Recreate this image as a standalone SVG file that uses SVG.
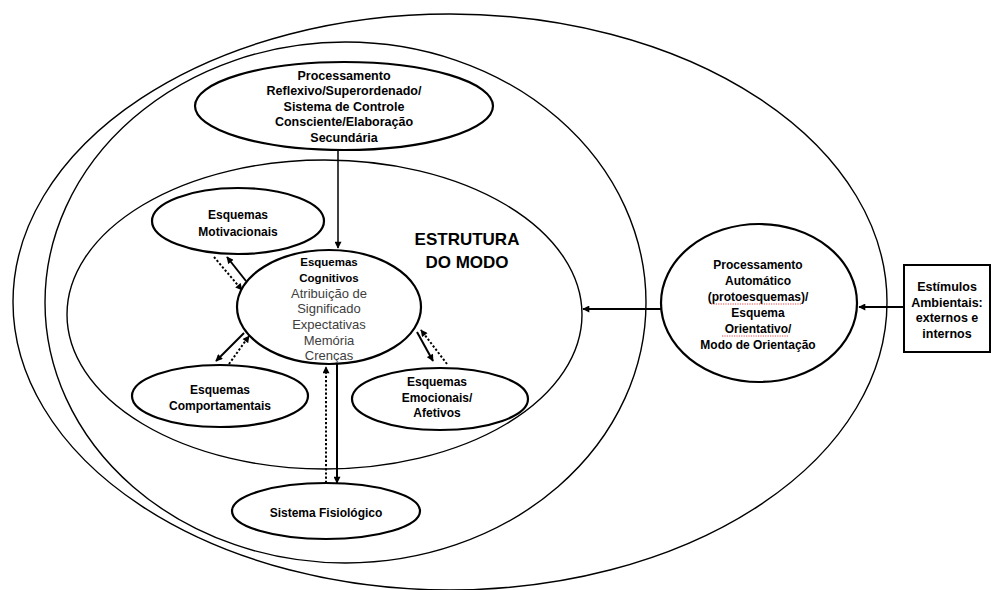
<svg xmlns="http://www.w3.org/2000/svg" width="991" height="590" viewBox="0 0 991 590">
<style>
.bg{fill:#fff}
.container{fill:none;stroke:#000;stroke-width:1.4}
.node{fill:#fff;stroke:#000;stroke-width:2.2}
.t{font-family:"Liberation Sans",Arial,sans-serif;font-weight:bold;fill:#000;text-anchor:middle}
.r{font-family:"Liberation Sans",Arial,sans-serif;font-weight:normal;fill:#404040;text-anchor:middle;font-size:13px}
.solid{stroke:#000;stroke-width:2;fill:none}
.thin{stroke:#000;stroke-width:1.5;fill:none}
.dot{stroke:#000;stroke-width:2;fill:none;stroke-dasharray:2.2 2}
.spell{stroke:#e03030;stroke-width:0.9;fill:none;stroke-dasharray:1.2 1.2}
</style>
<defs>
<marker id="ah" viewBox="0 0 10 10" refX="9" refY="5" markerWidth="8" markerHeight="7" markerUnits="userSpaceOnUse" orient="auto">
<path d="M0,0 L10,5 L0,10 Z" fill="#000"/>
</marker>
</defs>
<rect class="bg" x="0" y="0" width="991" height="590"/>

<g id="outer-ellipse"><ellipse class="container" cx="450" cy="302" rx="437" ry="288"/></g>
<g id="middle-ellipse"><ellipse class="container" cx="345.5" cy="302.5" rx="300.5" ry="260.5"/></g>
<g id="estrutura-do-modo">
<ellipse class="container" cx="324.5" cy="314.5" rx="257.5" ry="154.5"/>
<text class="t" x="467" y="245" style="font-size:17px">ESTRUTURA</text>
<text class="t" x="467" y="268" style="font-size:17px">DO MODO</text>
</g>

<g id="connectors">
<line class="thin" x1="338" y1="150" x2="338" y2="248" marker-end="url(#ah)"/>
<line class="solid" x1="246" y1="281" x2="227" y2="257" marker-end="url(#ah)"/>
<line class="dot" x1="214" y1="257" x2="242" y2="290" marker-end="url(#ah)"/>
<line class="solid" x1="244" y1="333" x2="216" y2="361" marker-end="url(#ah)"/>
<line class="dot" x1="229" y1="364" x2="249" y2="336" marker-end="url(#ah)"/>
<line class="solid" x1="417" y1="332" x2="433" y2="361" marker-end="url(#ah)"/>
<line class="dot" x1="447" y1="364" x2="421" y2="330" marker-end="url(#ah)"/>
<line class="solid" x1="337" y1="364" x2="337" y2="483" marker-end="url(#ah)"/>
<line class="dot" x1="326" y1="483" x2="326" y2="367" marker-end="url(#ah)"/>
<line class="solid" x1="904" y1="307" x2="859" y2="307" marker-end="url(#ah)"/>
<line class="solid" x1="661" y1="309" x2="583" y2="309" marker-end="url(#ah)"/>
</g>

<g id="processamento-reflexivo">
<ellipse class="node" cx="344" cy="106" rx="149" ry="44"/>
<text class="t" style="font-size:12.5px" x="344" y="79.5">Processamento</text>
<text class="t" style="font-size:12.5px" x="344" y="95">Reflexivo/Superordenado/</text>
<text class="t" style="font-size:12.5px" x="344" y="110.5">Sistema de Controle</text>
<text class="t" style="font-size:12.5px" x="344" y="126">Consciente/Elaboração</text>
<text class="t" style="font-size:12.5px" x="344" y="141.5">Secundária</text>
</g>

<g id="esquemas-motivacionais">
<ellipse class="node" cx="238" cy="221" rx="86" ry="33"/>
<text class="t" style="font-size:12px" x="238" y="219">Esquemas</text>
<text class="t" style="font-size:12px" x="238" y="236">Motivacionais</text>
</g>

<g id="esquemas-cognitivos">
<ellipse class="node" cx="329" cy="307" rx="92" ry="57"/>
<text class="t" style="font-size:11.5px" x="329" y="266">Esquemas</text>
<text class="t" style="font-size:11.5px" x="329" y="281.5">Cognitivos</text>
<text class="r" x="329" y="297.5">Atribuição de</text>
<text class="r" x="329" y="313">Significado</text>
<text class="r" x="329" y="329">Expectativas</text>
<text class="r" x="329" y="344.5">Memória</text>
<text class="r" x="329" y="360">Crenças</text>
</g>

<g id="esquemas-comportamentais">
<ellipse class="node" cx="220" cy="396" rx="88" ry="31"/>
<text class="t" style="font-size:12px" x="220" y="394">Esquemas</text>
<text class="t" style="font-size:12px" x="220" y="409.5">Comportamentais</text>
</g>

<g id="esquemas-emocionais">
<ellipse class="node" cx="440" cy="399" rx="88" ry="31"/>
<text class="t" style="font-size:12px" x="437" y="386">Esquemas</text>
<text class="t" style="font-size:12px" x="437" y="401.5">Emocionais/</text>
<text class="t" style="font-size:12px" x="437" y="417">Afetivos</text>
</g>

<g id="sistema-fisiologico">
<ellipse class="node" cx="326" cy="511" rx="94" ry="28"/>
<text class="t" style="font-size:12px" x="326" y="517">Sistema Fisiológico</text>
</g>

<g id="processamento-automatico">
<ellipse class="node" cx="759" cy="303" rx="98" ry="79"/>
<text class="t" style="font-size:12px" x="758" y="269">Processamento</text>
<text class="t" style="font-size:12px" x="758" y="285">Automático</text>
<text class="t" style="font-size:12px" x="758" y="301">(protoesquemas)/</text>
<text class="t" style="font-size:12px" x="758" y="317">Esquema</text>
<text class="t" style="font-size:12px" x="758" y="333">Orientativo/</text>
<text class="t" style="font-size:12px" x="758" y="349">Modo de Orientação</text>
<path class="spell" d="M711,304 L802,304"/>
<path class="spell" d="M722,336 L788,336"/>
</g>

<g id="estimulos-ambientais">
<rect x="904" y="265" width="86" height="87" fill="#fff" stroke="#000" stroke-width="2"/>
<text class="t" style="font-size:12.5px" x="947" y="291">Estímulos</text>
<text class="t" style="font-size:12.5px" x="947" y="306.5">Ambientais:</text>
<text class="t" style="font-size:12.5px" x="947" y="322">externos e</text>
<text class="t" style="font-size:12.5px" x="947" y="337.5">internos</text>
</g>
</svg>
